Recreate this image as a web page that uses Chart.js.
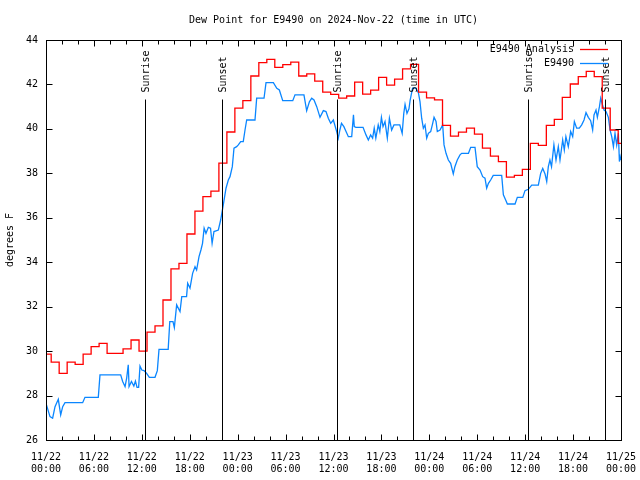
<!DOCTYPE html>
<html>
<head>
<meta charset="utf-8">
<script src="https://cdn.jsdelivr.net/npm/chart.js@4"></script>
<style>
  html, body { margin: 0; padding: 0; background: #fff; }
</style>
</head>
<body>
<canvas id="dewChart" width="640" height="480"></canvas>
<script>
// Hours since 2024-11-22 00:00 UTC
const xTickDates = ['11/22', '11/22', '11/22', '11/22', '11/23', '11/23', '11/23', '11/23', '11/24', '11/24', '11/24', '11/24', '11/25'];
const xTickTimes = ['00:00', '06:00', '12:00', '18:00', '00:00', '06:00', '12:00', '18:00', '00:00', '06:00', '12:00', '18:00', '00:00'];

// Analysis: one value per hour, each step starts at hour k - 0.35
const redVals = [
    29.86, 29.5, 29.0, 29.5, 29.4, 29.86, 30.2, 30.35, 29.9, 29.9,
    30.1, 30.5, 30.0, 30.85, 31.14, 32.3, 33.7, 33.95, 35.27, 36.3,
    36.95, 37.2, 38.46, 39.86, 40.93, 41.27, 42.38, 42.98, 43.13, 42.77,
    42.89, 43.0, 42.38, 42.48, 42.15, 41.65, 41.55, 41.38, 41.48, 42.1,
    41.56, 41.74, 42.32, 41.97, 42.24, 42.7, 42.9, 41.65, 41.4, 41.31,
    40.16, 39.67, 39.85, 40.03, 39.76, 39.13, 38.77, 38.53, 37.83, 37.91,
    38.18, 39.35, 39.26, 40.16, 40.43, 41.42, 42.02, 42.35, 42.59, 42.35,
    40.93, 39.95, 39.35
];

// Station observations
const blueHours = [
    0, 0.5, 0.83, 1.13, 1.54, 1.84, 2.09, 2.38, 4.59, 4.88, 6.55, 6.76, 9.35, 9.6, 9.9, 10.1, 10.3, 10.4, 10.7, 11.0,
    11.2, 11.4, 11.6, 11.77, 12.0, 12.27, 12.6, 12.94, 13.65, 13.94, 14.15, 15.3, 15.5, 15.9, 16.07, 16.36, 16.78, 17.0, 17.6, 17.74,
    18.03, 18.36, 18.66, 18.86, 19.16, 19.4, 19.6, 19.8, 20.03, 20.33, 20.6, 20.8, 21.03, 21.58, 21.87, 22.2, 22.54, 22.83, 23.04, 23.33,
    23.54, 23.87, 24.08, 24.38, 24.7, 24.92, 25.13, 26.17, 26.38, 27.3, 27.55, 28.47, 28.9, 29.22, 29.64, 30.9, 31.18, 32.3, 32.64, 32.98,
    33.27, 33.56, 33.9, 34.31, 34.73, 35.06, 35.35, 35.65, 35.98, 36.4, 36.6, 36.8, 37.0, 37.3, 37.57, 37.86, 38.28, 38.5, 38.6, 38.8,
    39.7, 40.07, 40.36, 40.65, 40.9, 41.1, 41.3, 41.6, 41.8, 42.0, 42.2, 42.45, 42.74, 43.0, 43.28, 43.57, 44.3, 44.6, 44.8, 44.96,
    45.2, 45.45, 45.6, 45.9, 46.3, 46.63, 46.83, 47.04, 47.25, 47.46, 47.67, 47.88, 48.17, 48.42, 48.59, 48.84, 49.0, 49.34, 49.67, 49.84,
    50.09, 50.38, 50.67, 51.0, 51.2, 51.5, 51.84, 52.05, 52.9, 53.18, 53.72, 54.0, 54.35, 54.68, 54.97, 55.18, 55.4, 55.68, 56.0, 57.06,
    57.27, 57.6, 57.77, 58.73, 59.02, 59.7, 59.98, 60.4, 60.82, 61.65, 61.94, 62.2, 62.49, 62.7, 62.9, 63.1, 63.3, 63.6, 63.86, 64.15,
    64.36, 64.7, 64.9, 65.1, 65.4, 65.7, 65.95, 66.16, 66.45, 66.78, 67.08, 67.37, 67.62, 67.91, 68.2, 68.45, 68.62, 68.87, 69.04, 69.3,
    69.46, 69.63, 69.88, 70.13, 70.42, 70.63, 70.84, 71.05, 71.25, 71.46, 71.67, 71.8, 71.9, 72.0
];
const blueVals = [
    27.65, 27.05, 26.98, 27.5, 27.83, 27.13, 27.5, 27.68, 27.68, 27.92, 27.92, 28.93, 28.93, 28.63, 28.4, 28.78, 29.38, 28.4, 28.63, 28.43,
    28.65, 28.37, 28.37, 29.33, 29.15, 29.12, 29.0, 28.82, 28.82, 29.12, 30.08, 30.08, 31.33, 31.33, 31.06, 32.08, 31.78, 32.45, 32.45, 33.05,
    32.83, 33.5, 33.8, 33.65, 34.25, 34.55, 34.85, 35.53, 35.3, 35.57, 35.53, 34.85, 35.38, 35.45, 35.9, 36.58, 37.33, 37.7, 37.85, 38.3,
    39.13, 39.2, 39.28, 39.43, 39.43, 39.95, 40.4, 40.4, 41.38, 41.38, 42.08, 42.08, 41.83, 41.75, 41.27, 41.27, 41.53, 41.53, 40.82, 41.22,
    41.38, 41.3, 41.0, 40.52, 40.82, 40.78, 40.48, 40.25, 40.4, 39.88, 39.58, 39.95, 40.25, 40.1, 39.88, 39.65, 39.65, 40.63, 40.1, 40.07,
    40.07, 39.73, 39.5, 39.73, 39.58, 40.03, 39.58, 40.18, 39.88, 40.52, 40.1, 40.33, 39.58, 40.48, 39.95, 40.18, 40.18, 39.8, 40.7, 41.1,
    40.7, 40.9, 41.3, 41.83, 41.83, 41.63, 41.23, 40.48, 40.03, 40.18, 39.58, 39.8, 39.88, 40.25, 40.52, 40.33, 39.88, 39.95, 40.18, 39.28,
    38.9, 38.6, 38.45, 37.97, 38.3, 38.6, 38.83, 38.9, 38.9, 39.17, 39.17, 38.3, 38.15, 37.85, 37.78, 37.33, 37.55, 37.7, 37.91, 37.91,
    37.03, 36.77, 36.62, 36.62, 36.92, 36.92, 37.22, 37.28, 37.47, 37.47, 38.0, 38.22, 37.97, 37.63, 38.3, 38.6, 38.3, 39.28, 38.6, 39.2,
    38.6, 39.5, 39.05, 39.65, 39.2, 39.88, 39.65, 40.33, 40.03, 40.03, 40.18, 40.4, 40.73, 40.52, 40.37, 39.95, 40.63, 40.85, 40.52, 41.0,
    41.38, 41.15, 40.85, 40.78, 40.52, 39.95, 39.65, 39.2, 39.8, 39.28, 39.8, 38.53, 38.75, 38.6
];

// Sunrise / sunset markers
const sunHours = [12.44, 22.08, 36.48, 46.0, 60.4, 70.04];
const sunLabels = ['Sunrise', 'Sunset', 'Sunrise', 'Sunset', 'Sunrise', 'Sunset'];

const MONO = '"DejaVu Sans Mono", "Liberation Mono", monospace';

// analysis steps
const redData = redVals.map((v, k) => ({ x: Math.max(0, k - 0.35), y: v }));
redData.push({ x: 72, y: redVals[redVals.length - 1] });
const blueData = blueHours.map((h, i) => ({ x: h, y: blueVals[i] }));

// Frame, inward ticks, sun lines, legend
const gnuFrame = {
    id: 'gnuFrame',
    afterDatasetsDraw(chart) {
        const ctx = chart.ctx;
        const area = chart.chartArea;
        const xs = chart.scales.x, ys = chart.scales.y;
        const L = Math.round(area.left) + 0.5, R = Math.round(area.right) + 0.5;
        const T = Math.round(area.top) + 0.5, B = Math.round(area.bottom) + 0.5;
        ctx.save();
        ctx.strokeStyle = '#000';
        ctx.lineWidth = 1;

        // sun lines
        ctx.font = '10px ' + MONO;
        ctx.fillStyle = '#000';
        sunHours.forEach((h, i) => {
            const x = Math.round(xs.getPixelForValue(h)) + 0.5;
            ctx.beginPath();
            ctx.moveTo(x, T + 59);
            ctx.lineTo(x, B);
            ctx.stroke();
            ctx.save();
            ctx.translate(x + 1, T + 52);
            ctx.rotate(-Math.PI / 2);
            ctx.textAlign = 'left';
            ctx.textBaseline = 'middle';
            ctx.fillText(sunLabels[i], 0, 0);
            ctx.restore();
        });

        // frame
        ctx.strokeRect(L, T, R - L, B - T);

        ctx.beginPath();
        for (let h = 0; h <= 72; h += 2) {
            const x = Math.round(xs.getPixelForValue(h)) + 0.5;
            const len = h % 6 === 0 ? 6 : 4;
            ctx.moveTo(x, B); ctx.lineTo(x, B - len);
            ctx.moveTo(x, T); ctx.lineTo(x, T + len);
        }
        for (let v = 26; v <= 44; v += 2) {
            const y = Math.round(ys.getPixelForValue(v)) + 0.5;
            ctx.moveTo(L, y); ctx.lineTo(L + 6, y);
            ctx.moveTo(R, y); ctx.lineTo(R - 6, y);
        }
        ctx.stroke();

        // legend
        ctx.textAlign = 'right';
        ctx.textBaseline = 'middle';
        chart.data.datasets.forEach((ds, i) => {
            const y = Math.round(area.top + 9 + i * 14) + 0.5;
            ctx.fillStyle = '#000';
            ctx.fillText(ds.label, area.right - 47, y);
            ctx.strokeStyle = ds.borderColor;
            ctx.lineWidth = ds.borderWidth;
            ctx.beginPath();
            ctx.moveTo(area.right - 41, y);
            ctx.lineTo(area.right - 13, y);
            ctx.stroke();
        });
        ctx.restore();
    }
};

new Chart(document.getElementById('dewChart'), {
    type: 'line',
    data: {
        datasets: [
            {
                label: 'E9490 Analysis',
                data: redData,
                borderColor: '#ff0000',
                borderWidth: 1.3,
                stepped: true,
                pointRadius: 0
            },
            {
                label: 'E9490',
                data: blueData,
                borderColor: '#0a86ff',
                borderWidth: 1.3,
                pointRadius: 0
            }
        ]
    },
    options: {
        responsive: false,
        animation: false,
        layout: { padding: { left: 0, right: 19, top: 0, bottom: 0 } },
        plugins: {
            legend: { display: false },
            tooltip: { enabled: false },
            title: {
                display: true,
                fullSize: false,
                text: 'Dew Point for E9490 on 2024-Nov-22 (time in UTC)',
                color: '#000',
                font: { family: MONO, size: 10, weight: 'normal' },
                padding: { top: 14, bottom: 14 }
            }
        },
        scales: {
            x: {
                type: 'linear',
                min: 0,
                max: 72,
                afterFit: s => { s.height = 40; s.paddingLeft = 0; s.paddingRight = 0; },
                afterBuildTicks: s => { s.ticks = xTickDates.map((d, i) => ({ value: i * 6 })); },
                grid: { display: false, drawTicks: false },
                border: { display: false },
                ticks: {
                    color: '#000',
                    font: { family: MONO, size: 10 },
                    padding: 11,
                    maxRotation: 0,
                    autoSkip: false,
                    callback: v => [xTickDates[v / 6], xTickTimes[v / 6]]
                }
            },
            y: {
                min: 26,
                max: 44,
                afterFit: s => { s.width = 46; },
                grid: { display: false, drawTicks: false },
                border: { display: false },
                title: {
                    display: true,
                    text: 'degrees F',
                    color: '#000',
                    font: { family: MONO, size: 10 }
                },
                ticks: {
                    stepSize: 2,
                    color: '#000',
                    font: { family: MONO, size: 10 },
                    padding: 8
                }
            }
        }
    },
    plugins: [gnuFrame]
});
</script>
</body>
</html>
